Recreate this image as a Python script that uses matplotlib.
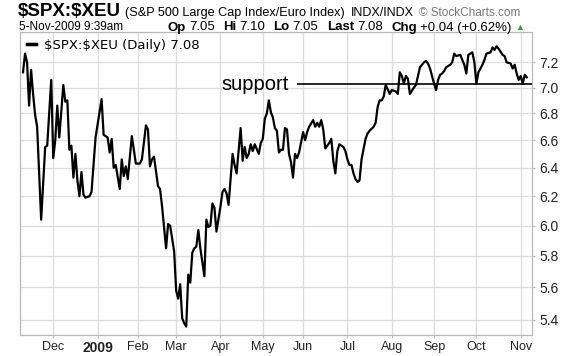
import numpy as np
import pandas as pd
import matplotlib
matplotlib.use('Agg')
import matplotlib.pyplot as plt
from matplotlib.transforms import IdentityTransform
from matplotlib.ticker import FixedLocator, FixedFormatter, NullLocator

# ---------------------------------------------------------------------- #
# Data: $SPX:$XEU daily close (trading-session index)
# ---------------------------------------------------------------------- #
FIRST_DAY = '2008-11-07'
LAST_DAY = '2009-11-05'
HOLIDAYS = ['2008-11-27', '2008-12-25', '2009-01-01', '2009-01-19',
            '2009-02-16', '2009-04-10', '2009-05-25', '2009-07-03',
            '2009-09-07']

session = [0, 1, 2, 3, 4, 5, 6, 7, 9, 11, 12, 14,                      # Nov
           15, 16, 17, 18, 20, 21, 22, 23, 24, 25, 26, 27, 28, 29,      # Dec
           30, 31, 33, 34,
           36, 39, 40, 42, 43, 44, 45, 46, 48, 49, 50, 51, 52, 54,      # Jan
           56, 58, 59, 61, 62, 63, 64, 65, 67, 68, 69, 71, 72, 73,      # Feb
           75, 76, 77, 78, 79, 80, 81, 82, 83, 84, 85, 86, 87, 88,      # Mar
           90, 91, 92, 93, 94, 95, 96,
           98, 99, 100, 101, 102, 104, 105, 106, 108, 109, 110, 111,    # Apr
           112, 113, 114, 115, 117,
           118, 119, 120, 121, 122, 123, 124, 125, 126, 127, 128, 129,  # May
           130, 131, 132, 133, 134, 135, 136, 137,
           139, 140, 141, 142, 144, 145, 146, 147, 148, 149, 150, 152,  # Jun
           153, 154, 155, 156, 157, 159,
           160, 161, 162, 163, 164, 165, 166, 167, 168, 170, 171, 172,  # Jul
           174, 175, 176, 177, 178, 179, 180,
           182, 183, 185, 186, 187, 188, 189, 190, 191, 192, 194, 195,  # Aug
           197, 199, 200, 201, 202,
           204, 205, 206, 207, 208, 209, 210, 212, 213, 214, 215, 217,  # Sep
           218, 219, 220, 221, 223,
           224, 225, 226, 228, 229, 230, 232, 233, 234, 235, 236, 238,  # Oct
           239, 240, 242, 243, 244, 245,
           246, 247, 248, 249, 250]                                     # Nov

ratio = [7.12, 7.27, 7.20, 6.86, 7.14, 6.95, 6.79, 6.70, 6.04, 6.55, 6.56, 7.06,
         6.47, 6.60, 6.86, 6.62, 7.02, 6.89, 6.90, 6.53, 6.56, 6.33, 6.50, 6.31, 6.20, 6.37,
         6.21, 6.19, 6.20, 6.23,
         6.62, 6.91, 6.64, 6.62, 6.51, 6.61, 6.40, 6.42, 6.25, 6.46, 6.34, 6.41, 6.32, 6.63,
         6.43, 6.43, 6.46, 6.71, 6.68, 6.41, 6.46, 6.48, 6.27, 6.25, 6.13, 5.85, 6.01, 6.00,
         5.83, 5.58, 5.53, 5.62, 5.41, 5.38, 5.36, 5.68, 5.63, 5.82, 5.85, 5.86, 5.97, 5.85,
         5.67, 6.04, 5.99, 6.00, 6.15, 6.12, 5.96,
         6.13, 6.23, 6.25, 6.22, 6.14, 6.50, 6.42, 6.36, 6.69, 6.45, 6.55, 6.47,
         6.50, 6.57, 6.52, 6.57, 6.50,
         6.58, 6.61, 6.76, 6.80, 6.90, 6.81, 6.77, 6.69, 6.67, 6.51, 6.53, 6.53,
         6.69, 6.68, 6.50, 6.44, 6.33, 6.50, 6.47, 6.51,
         6.66, 6.60, 6.66, 6.70, 6.75, 6.70, 6.73, 6.70, 6.75, 6.68, 6.54, 6.58,
         6.61, 6.45, 6.36, 6.52, 6.57, 6.55,
         6.52, 6.46, 6.42, 6.42, 6.36, 6.32, 6.30, 6.31, 6.46, 6.61, 6.65, 6.67,
         6.70, 6.73, 6.85, 6.90, 6.90, 6.93, 7.02,
         6.95, 6.98, 6.97, 6.95, 7.12, 7.09, 7.03, 7.09, 7.07, 6.95, 7.00, 7.02,
         7.16, 7.20, 7.21, 7.19, 7.15,
         7.03, 6.98, 7.06, 7.10, 7.11, 7.13, 7.16, 7.18, 7.20, 7.27, 7.25, 7.26,
         7.22, 7.18, 7.11, 7.26, 7.28,
         7.20, 7.03, 7.12, 7.18, 7.22, 7.27, 7.28, 7.32, 7.30, 7.33, 7.31, 7.26,
         7.25, 7.20, 7.19, 7.15, 7.18, 7.11,
         7.06, 7.09, 7.03, 7.10, 7.08]

y_ticks = [5.4, 5.6, 5.8, 6.0, 6.2, 6.4, 6.6, 6.8, 7.0, 7.2]
month_labels = ['Dec', '2009', 'Feb', 'Mar', 'Apr', 'May', 'Jun', 'Jul',
                'Aug', 'Sep', 'Oct', 'Nov']

support_level = 7.025
support_from = 136          # session where the drawn support line starts

assert len(session) == len(ratio)

# trading calendar -> index of the first session of each month
dates = pd.bdate_range(FIRST_DAY, LAST_DAY, freq='C', holidays=HOLIDAYS)
month_start = [i for i in range(1, len(dates))
               if dates[i].month != dates[i - 1].month]

# ---------------------------------------------------------------------- #
# Figure
# ---------------------------------------------------------------------- #
W, H = 576, 356
fig = plt.figure(figsize=(W / 100, H / 100), dpi=100)
fig.patch.set_facecolor('white')
ax = fig.add_axes([20 / W, 1 - 335 / H, 512 / W, (335 - 31.7) / H])

grid_c = '#dcdcdc'
ax.set_yscale('log')
ax.set_ylim(5.31, 7.45)
ax.set_xlim(-1.5, 252.6)

for m in month_start:
    ax.axvline(m, color=grid_c, lw=0.9, zorder=0)
for v in y_ticks:
    ax.axhline(v, color=grid_c, lw=0.9, zorder=0)

ax.plot(session, ratio, color='black', lw=1.6, solid_joinstyle='round',
        label=r'\$SPX:\$XEU (Daily) 7.08', zorder=3)

# support line + label
ax.hlines(support_level, support_from, ax.get_xlim()[1], color='black',
          lw=1.2, zorder=4)
ax.text(support_from - 4, support_level, 'support', ha='right', va='center',
        fontsize=14.5, family='Liberation Sans', color='black')

# axes styling
for sp in ax.spines.values():
    sp.set_color('#b8b8b8')
    sp.set_linewidth(0.9)

ax.yaxis.tick_right()
ax.yaxis.set_major_locator(FixedLocator(y_ticks))
ax.yaxis.set_major_formatter(FixedFormatter([f'{v:.1f}' for v in y_ticks]))
ax.yaxis.set_minor_locator(NullLocator())
ax.tick_params(axis='y', which='major', length=2, width=0.8, color='#b8b8b8',
               pad=3, labelsize=10, labelcolor='#222222')
ax.xaxis.set_major_locator(FixedLocator(month_start))
ax.xaxis.set_major_formatter(FixedFormatter(month_labels))
ax.xaxis.set_minor_locator(NullLocator())
ax.tick_params(axis='x', length=2, width=0.8, color='#b8b8b8', pad=2,
               labelsize=9, labelcolor='#222222')
for lab in ax.get_xticklabels() + ax.get_yticklabels():
    lab.set_family('Liberation Sans')
for lab in ax.get_xticklabels():
    if lab.get_text() == '2009':
        lab.set_fontweight('bold')
        lab.set_fontsize(10)

leg = ax.legend(loc='upper left', frameon=False, handlelength=0.7,
                handletextpad=0.6, borderaxespad=0.35, borderpad=0.2,
                prop={'family': 'DejaVu Sans', 'size': 9.5})
for h in leg.get_lines():
    h.set_linewidth(2.5)

# ---------------------------------------------------------------------- #
# Header (StockCharts style), pieces chained left to right in pixels
# ---------------------------------------------------------------------- #
renderer = fig.canvas.get_renderer()


def chain(x, y_base, pieces):
    for s, size, weight, color, gap in pieces:
        t = fig.text(x, H - y_base, s, transform=IdentityTransform(),
                     fontsize=size, fontweight=weight, color=color,
                     family='Liberation Sans', va='baseline', ha='left',
                     parse_math=False)
        bb = t.get_window_extent(renderer)
        x = bb.x1 + gap


chain(18, 16, [
    ('$SPX:$XEU', 13.5, 'bold', 'black', 4),
    ('(S&P 500 Large Cap Index/Euro Index)', 9.1, 'normal', 'black', 6),
    ('INDX/INDX', 9, 'normal', 'black', 5),
    ('\u00a9 StockCharts.com', 8.5, 'normal', '#777777', 0),
])
chain(19, 30.5, [('5-Nov-2009 9:39am', 8.5, 'normal', 'black', 0)])
chain(168, 30.5, [
    ('Op', 9.5, 'bold', 'black', 3), ('7.05', 9.5, 'normal', 'black', 8),
    ('Hi', 9.5, 'bold', 'black', 3), ('7.10', 9.5, 'normal', 'black', 8),
    ('Lo', 9.5, 'bold', 'black', 3), ('7.05', 9.5, 'normal', 'black', 9),
    ('Last', 9.5, 'bold', 'black', 3), ('7.08', 9.5, 'normal', 'black', 9),
    ('Chg', 9.5, 'bold', 'black', 3),
    ('+0.04 (+0.62%)', 9.5, 'normal', 'black', 3),
    ('\u25b2', 6.5, 'normal', '#2e9e3e', 0),
])

fig.savefig('out.png', dpi=100, facecolor='white')
